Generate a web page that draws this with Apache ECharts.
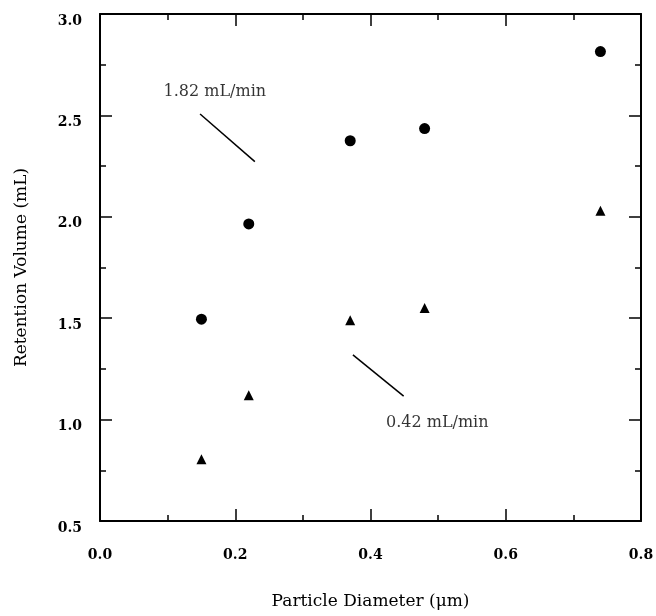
<!DOCTYPE html>
<html>
<head>
<meta charset="utf-8">
<script src="https://cdn.jsdelivr.net/npm/echarts@6/dist/echarts.min.js"></script>
<style>
  html, body { margin: 0; padding: 0; background: #fff; }
  #chart { width: 656px; height: 616px; }
</style>
</head>
<body>
<div id="chart"></div>
<script>
  // particle diameters (µm)
  const diameters = [0.15, 0.22, 0.37, 0.48, 0.74];
  // retention volumes (mL)
  const fastFlow = [1.495, 1.965, 2.375, 2.435, 2.815];   // 1.82 mL/min, circles
  const slowFlow = [0.805, 1.12, 1.49, 1.55, 2.03];       // 0.42 mL/min, triangles

  // annotation pointers and labels, in data units
  const fastPointer = [[0.148, 2.507], [0.229, 2.272]];
  const slowPointer = [[0.374, 1.319], [0.449, 1.116]];
  const notes = [
    { name: '1.82 mL/min', value: [0.094, 2.615] },
    { name: '0.42 mL/min', value: [0.423, 0.983] }
  ];

  const serif = 'DejaVu Serif';
  const black = '#000';

  function pairs(xs, ys) {
    return xs.map((x, i) => [x, ys[i]]);
  }

  function frameAxis(opts, label) {
    return Object.assign({
      type: 'value',
      axisLine: { show: true, onZero: false, lineStyle: { color: black, width: 2 } },
      axisTick: { show: true, inside: true, length: 12, lineStyle: { color: black, width: 1.5 } },
      minorTick: { show: true, splitNumber: 2, length: 6, lineStyle: { color: black, width: 1.5 } },
      splitLine: { show: false },
      minorSplitLine: { show: false },
      axisLabel: Object.assign({
        show: !!label,
        color: black,
        fontFamily: serif,
        fontWeight: 'bold',
        fontSize: 14,
        formatter: v => v.toFixed(1)
      }, label || {})
    }, opts);
  }

  const titleStyle = { color: black, fontFamily: serif, fontSize: 17 };

  const chart = echarts.init(document.getElementById('chart'));

  chart.setOption({
    animation: false,
    backgroundColor: '#fff',
    grid: { left: 100, right: 15, top: 14, bottom: 95, containLabel: false, outerBoundsMode: 'none' },
    xAxis: [
      frameAxis({
        min: 0, max: 0.8, interval: 0.2, position: 'bottom',
        name: 'Particle Diameter (\u03bcm)', nameLocation: 'middle', nameGap: 72,
        nameTextStyle: titleStyle
      }, { margin: 27 }),
      frameAxis({ min: 0, max: 0.8, interval: 0.2, position: 'top' }, null)
    ],
    yAxis: [
      frameAxis({
        min: 0.5, max: 3.0, interval: 0.5, position: 'left',
        name: 'Retention Volume (mL)', nameLocation: 'middle', nameGap: 70,
        nameTextStyle: titleStyle
      }, { margin: 18, verticalAlign: 'top' }),
      frameAxis({ min: 0.5, max: 3.0, interval: 0.5, position: 'right' }, null)
    ],
    series: [
      {
        type: 'scatter', symbol: 'circle', symbolSize: 11,
        itemStyle: { color: black, opacity: 1 },
        data: pairs(diameters, fastFlow)
      },
      {
        type: 'scatter', symbol: 'triangle', symbolSize: [10, 10],
        itemStyle: { color: black, opacity: 1 },
        data: pairs(diameters, slowFlow)
      },
      {
        type: 'line', symbol: 'none', silent: true,
        lineStyle: { color: black, width: 1.5 },
        data: fastPointer
      },
      {
        type: 'line', symbol: 'none', silent: true,
        lineStyle: { color: black, width: 1.5 },
        data: slowPointer
      },
      {
        type: 'scatter', symbolSize: 0, silent: true,
        label: {
          show: true, position: 'right', distance: 0,
          formatter: '{b}', color: black, fontFamily: serif, fontSize: 16
        },
        data: notes
      }
    ]
  });

  window.addEventListener('resize', () => chart.resize());
</script>
</body>
</html>
